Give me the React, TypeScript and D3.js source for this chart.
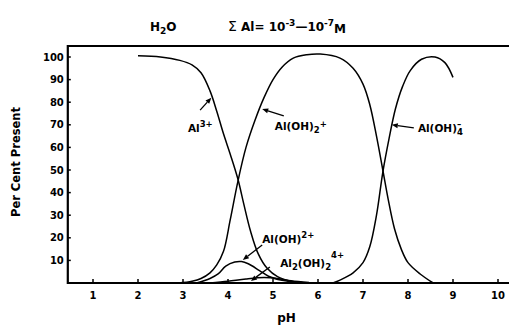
import React, { useEffect, useRef } from "react";
import * as d3 from "d3";

// species distribution of aluminium in water (pH, per cent)
const al3pH = [2.0, 2.5, 2.93, 3.2, 3.4, 3.6, 3.75, 3.9, 4.05, 4.22, 4.35, 4.5, 4.67, 4.87, 5.1, 5.4, 5.8];
const al3Val = [100.5, 100, 98.5, 96.5, 93, 85, 76, 66, 57, 46, 35, 23, 13, 6.5, 2.8, 0.8, 0];

const alOH2pH = [2.9, 3.2, 3.4, 3.6, 3.75, 3.9, 4.05, 4.22, 4.4, 4.6, 4.8, 5.0, 5.2, 5.45, 5.75, 6.05, 6.49, 6.78, 7.0, 7.15, 7.3, 7.44, 7.56, 7.7, 7.85, 8.0, 8.27, 8.56];
const alOH2Val = [0, 0.8, 2, 4.5, 8, 14, 28, 45, 60, 72, 82, 90, 95.5, 99.5, 101, 101.3, 99.5, 95, 88, 79, 65, 50, 37, 24, 15, 9, 4, 0];

const alOH4pH = [6.33, 6.49, 6.78, 7.0, 7.15, 7.3, 7.44, 7.58, 7.72, 7.88, 8.05, 8.3, 8.6, 8.82, 9.0];
const alOH4Val = [0, 1.3, 4.5, 9, 16, 30, 49, 64, 77, 87, 94, 99, 100, 97.5, 91];

const alOHpH = [3.3, 3.6, 3.78, 3.95, 4.15, 4.3, 4.45, 4.7, 4.9, 5.2, 5.6];
const alOHVal = [0, 2, 4, 7.5, 9.3, 9.5, 8.5, 5.5, 3, 1.2, 0.2];

const al2pH = [3.6, 4.0, 4.4, 4.8, 5.1, 5.4, 5.8];
const al2Val = [0, 0.8, 1.8, 2.4, 2, 1, 0.2];

const xTicks = [1, 2, 3, 4, 5, 6, 7, 8, 9, 10];
const yTicks = [10, 20, 30, 40, 50, 60, 70, 80, 90, 100];

// annotation anchors in data units: label start, arrow tail, arrow tip
const notePH = [3.11, 5.04, 8.22, 4.76, 5.16];
const noteVal = [67, 67.7, 67, 17.7, 7];
const tailPH = [3.38, 5.24, 8.13, 4.76, 4.93];
const tailVal = [76.5, 74, 68.6, 16.8, 7.1];
const tipPH = [3.63, 4.76, 7.64, 4.33, 4.51];
const tipVal = [82, 77, 70, 10.2, 0.9];

const font = "'DejaVu Sans', sans-serif";

export default function App() {
  const ref = useRef<SVGSVGElement>(null);

  useEffect(() => {
    if (!ref.current) return;
    const svg = d3.select(ref.current);
    svg.selectAll("*").remove();

    const x = d3.scaleLinear().domain([0, 10]).range([48, 498]);
    const y = d3.scaleLinear().domain([0, 100]).range([283, 57]);
    const x0 = x(0.44);
    const yBot = y(0);
    const yTop = 46;

    // frame: top, left, bottom
    svg.append("path")
      .attr("d", `M509,${yTop}H${x0}V${yBot}H509`)
      .attr("fill", "none")
      .attr("stroke", "#000")
      .attr("stroke-width", 2.2);

    // x ticks
    const xg = svg.append("g");
    xTicks.forEach((t) => {
      xg.append("line")
        .attr("x1", x(t)).attr("x2", x(t))
        .attr("y1", yBot).attr("y2", yBot - 4)
        .attr("stroke", "#000").attr("stroke-width", 1.5);
      xg.append("text")
        .attr("x", x(t)).attr("y", yBot + 16)
        .attr("text-anchor", "middle")
        .style("font-family", font).style("font-weight", "bold").style("font-size", "10px")
        .text(t);
    });

    // y ticks
    const yg = svg.append("g");
    yTicks.forEach((t) => {
      yg.append("line")
        .attr("x1", x0).attr("x2", x0 + 3)
        .attr("y1", y(t)).attr("y2", y(t))
        .attr("stroke", "#000").attr("stroke-width", 1.5);
      yg.append("text")
        .attr("x", x0 - 4).attr("y", y(t))
        .attr("dy", "0.35em")
        .attr("text-anchor", "end")
        .style("font-family", font).style("font-weight", "bold").style("font-size", "10px")
        .text(t);
    });

    // curves
    const line = d3.line<[number, number]>()
      .x((d) => x(d[0]))
      .y((d) => y(d[1]))
      .curve(d3.curveCatmullRom.alpha(0.5));

    const series: [number[], number[]][] = [
      [al3pH, al3Val],
      [alOH2pH, alOH2Val],
      [alOH4pH, alOH4Val],
      [alOHpH, alOHVal],
      [al2pH, al2Val],
    ];
    series.forEach(([px, py]) => {
      svg.append("path")
        .datum(px.map((p, i) => [p, py[i]] as [number, number]))
        .attr("fill", "none")
        .attr("stroke", "#000")
        .attr("stroke-width", 1.5)
        .attr("d", line);
    });

    // arrows
    tailPH.forEach((p, i) => {
      const x1 = x(p), y1 = y(tailVal[i]);
      const x2 = x(tipPH[i]), y2 = y(tipVal[i]);
      const a = Math.atan2(y2 - y1, x2 - x1);
      const L = 6, W = 2.5;
      const bx = x2 - L * Math.cos(a), by = y2 - L * Math.sin(a);
      svg.append("line")
        .attr("x1", x1).attr("y1", y1).attr("x2", bx).attr("y2", by)
        .attr("stroke", "#000").attr("stroke-width", 1.3);
      svg.append("path")
        .attr("d", `M${x2},${y2}L${bx - W * Math.sin(a)},${by + W * Math.cos(a)}L${bx + W * Math.sin(a)},${by - W * Math.cos(a)}Z`)
        .attr("fill", "#000");
    });

    // labels
    const lab = (i: number) =>
      svg.append("text")
        .attr("x", x(notePH[i])).attr("y", y(noteVal[i]))
        .style("font-family", font).style("font-weight", "bold").style("font-size", "10.5px");

    const t0 = lab(0);
    t0.append("tspan").text("Al");
    t0.append("tspan").attr("dy", -5).style("font-size", "8.5px").text("3+");

    const t1 = lab(1);
    t1.append("tspan").text("Al(OH)");
    t1.append("tspan").attr("dy", 3).style("font-size", "8.5px").text("2");
    t1.append("tspan").attr("dy", -6).style("font-size", "8.5px").text("+");

    const t2 = lab(2);
    t2.append("tspan").text("Al(OH)");
    t2.append("tspan").attr("dy", 3).style("font-size", "8.5px").text("4");
    // minus sign stacked over the 4
    svg.append("text")
      .attr("x", x(notePH[2]) + 39).attr("y", y(noteVal[2]) - 5)
      .style("font-family", font).style("font-weight", "bold").style("font-size", "8.5px")
      .text("–");

    const t3 = lab(3);
    t3.append("tspan").text("Al(OH)");
    t3.append("tspan").attr("dy", -5).style("font-size", "8.5px").text("2+");

    const t4 = lab(4);
    t4.append("tspan").text("Al");
    t4.append("tspan").attr("dy", 3).style("font-size", "8.5px").text("2");
    t4.append("tspan").attr("dy", -3).text("(OH)");
    t4.append("tspan").attr("dy", 3).style("font-size", "8.5px").text("2");
    t4.append("tspan").attr("dy", -12).style("font-size", "8.5px").text("4+");

    // title
    const h = svg.append("text")
      .attr("x", 150).attr("y", 31)
      .style("font-family", font).style("font-weight", "bold").style("font-size", "12px");
    h.append("tspan").text("H");
    h.append("tspan").attr("dy", 3).style("font-size", "9px").text("2");
    h.append("tspan").attr("dy", -3).text("O");

    const s = svg.append("text")
      .attr("x", 228).attr("y", 31)
      .style("font-family", font).style("font-weight", "bold").style("font-size", "12px");
    s.append("tspan").style("font-weight", "normal").style("font-size", "14px").text("Σ");
    s.append("tspan").text(" Al= 10");
    s.append("tspan").attr("dy", -5).style("font-size", "9px").text("-3");
    s.append("tspan").attr("dy", 5).text("—10");
    s.append("tspan").attr("dy", -5).style("font-size", "9px").text("-7");
    s.append("tspan").attr("dy", 7).text("M");

    // axis titles
    svg.append("text")
      .attr("transform", `translate(20,${(y(100) + y(0)) / 2 - 8}) rotate(-90)`)
      .attr("text-anchor", "middle")
      .style("font-family", font).style("font-weight", "bold").style("font-size", "11.5px")
      .text("Per Cent Present");

    svg.append("text")
      .attr("x", x(5.3)).attr("y", 322)
      .attr("text-anchor", "middle")
      .style("font-family", font).style("font-weight", "bold").style("font-size", "12px")
      .text("pH");
  }, []);

  return (
    <svg
      ref={ref}
      width={509}
      height={327}
      style={{ position: "absolute", left: 0, top: 0, background: "#fff" }}
    />
  );
}
